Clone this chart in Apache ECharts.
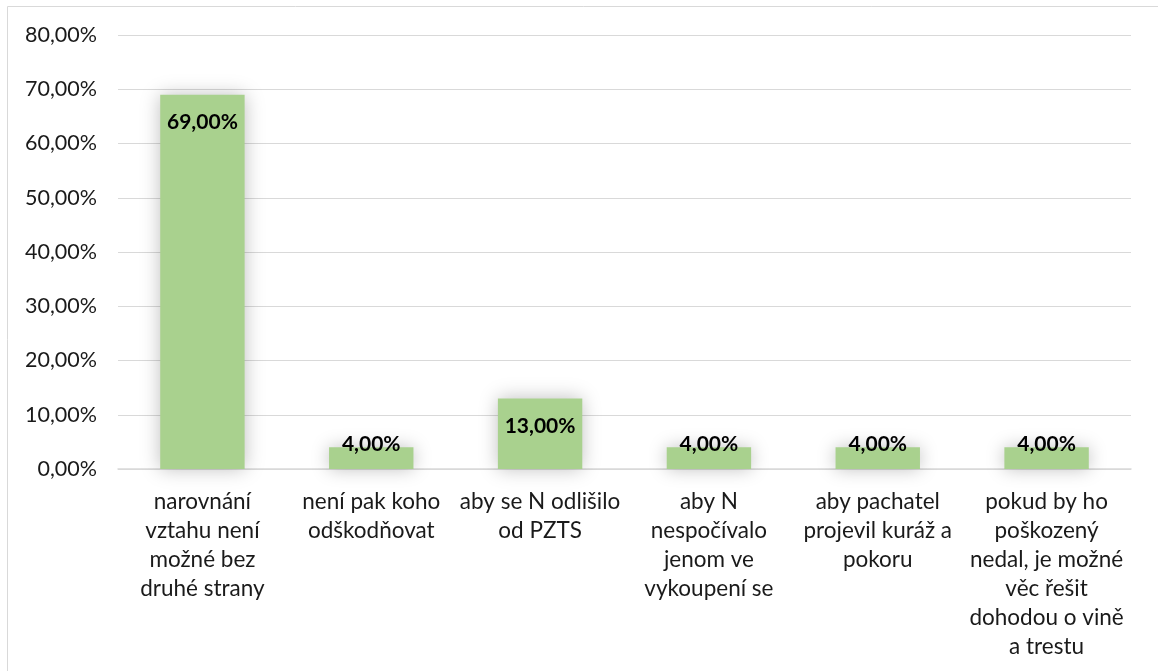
<!DOCTYPE html>
<html><head><meta charset="utf-8">
<script src="https://cdn.jsdelivr.net/npm/echarts@6/dist/echarts.min.js"></script>
<style>html,body{margin:0;padding:0;background:#fff}#c{width:1158px;height:671px}</style>
</head><body><div id="c"></div>
<script>
const categories = [
  "narovnání\nvztahu není\nmožné bez\ndruhé strany",
  "není pak koho\nodškodňovat",
  "aby se N odlišilo\nod PZTS",
  "aby N\nnespočívalo\njenom ve\nvykoupení se",
  "aby pachatel\nprojevil kuráž a\npokoru",
  "pokud by ho\npoškozený\nnedal, je možné\nvěc řešit\ndohodou o vině\na trestu"
];
const values = [69, 4, 13, 4, 4, 4];
const yTicks = { min: 0, max: 80, interval: 10 };

const fmt = v => v.toFixed(2).replace('.', ',') + '%';
const FONT = 'Lato';
const chart = echarts.init(document.getElementById('c'));
chart.setOption({
  animation: false,
  textStyle: { fontFamily: FONT },
  graphic: [{ type: 'rect', shape: { x: 7.5, y: 6.5, width: 1160, height: 700 },
    style: { fill: 'none', stroke: '#d9d9d9', lineWidth: 1 }, silent: true }],
  grid: { left: 118, right: 27, top: 35, bottom: 202, containLabel: false },
  xAxis: {
    type: 'category', data: categories,
    axisLine: { lineStyle: { color: '#d9d9d9', width: 1.5 } },
    axisTick: { show: false },
    axisLabel: { color: '#1a1a1a', fontSize: 22.5, lineHeight: 29, margin: 18, interval: 0, fontFamily: FONT }
  },
  yAxis: {
    type: 'value', min: yTicks.min, max: yTicks.max, interval: yTicks.interval,
    axisLine: { show: false }, axisTick: { show: false },
    splitLine: { lineStyle: { color: '#d9d9d9', width: 1.2 } },
    axisLabel: { color: '#1a1a1a', fontSize: 21.5, margin: 21, formatter: v => fmt(v), fontFamily: FONT }
  },
  series: [{
    type: 'bar', barCategoryGap: '50%',
    data: values.map(v => ({
      value: v,
      label: { distance: v < 8 ? -14 : 17 }
    })),
    itemStyle: { color: '#a9d18e', shadowColor: 'rgba(0,0,0,0.25)', shadowBlur: 18 },
    label: { show: true, position: 'insideTop', color: '#000', fontWeight: 'bold', fontSize: 21,
      fontFamily: FONT, formatter: p => fmt(p.value) }
  }]
});
</script></body></html>
